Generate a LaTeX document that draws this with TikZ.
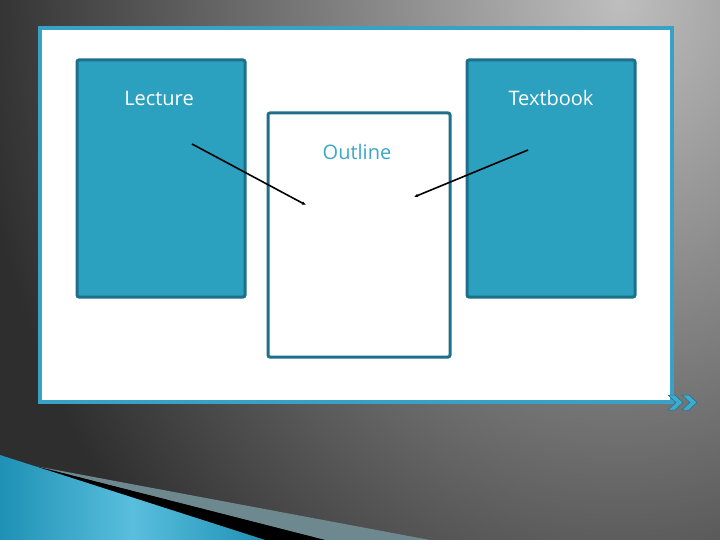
\documentclass[tikz,border=0pt]{standalone}
\usepackage{fontspec}
\setmainfont{Open Sans}
\usetikzlibrary{positioning, arrows.meta, shapes.geometric}
\definecolor{framecolor}{RGB}{55,162,196}
\definecolor{boxcolor}{RGB}{43,160,191}
\definecolor{boxedge}{RGB}{30,112,138}
\definecolor{outlinetext}{RGB}{58,168,198}
\definecolor{bgdark}{RGB}{46,46,46}
\definecolor{bglight}{RGB}{190,190,190}
\definecolor{bandgray}{RGB}{110,136,144}
\definecolor{wedgeblue}{RGB}{30,145,180}
\definecolor{wedgelight}{RGB}{90,190,222}
\definecolor{chevronfill}{RGB}{60,172,208}

\begin{document}
\begin{tikzpicture}[
    x=1pt, y=-1pt,
    box/.style={draw=boxedge, rectangle, rounded corners=2pt, line width=3pt, inner sep=0pt},
    txt/.style={font=\fontsize{20}{24}\selectfont, inner sep=0pt},
    arrow/.style={-{Latex[length=4pt, width=3.5pt]}, line width=1.6pt},
    chevron/.style={fill=chevronfill, draw=boxedge, line width=0.5pt}
]
    \useasboundingbox (0,0) rectangle (720,540);

    % Fond
    \fill[bgdark] (0,0) rectangle (720,540);
    \begin{scope}
        \clip (0,0) rectangle (720,540);
        \shade[inner color=bglight, outer color=bgdark] (620,0) ellipse [x radius=650pt, y radius=800pt];
    \end{scope}

    % Bandes en bas
    \fill[bandgray] (35,466) -- (430,540) -- (325,540) -- cycle;
    \fill[black] (35,466) -- (325,540) -- (265,540) -- cycle;
    \shade[left color=wedgeblue, right color=wedgeblue, middle color=wedgelight] (0,455) -- (265,540) -- (0,540) -- cycle;

    % Cadre
    \node[draw=framecolor, fill=white, line width=4pt, rectangle, minimum width=632pt, minimum height=374pt] (frame) at (356,215) {};

    % Chevrons
    \filldraw[chevron] (668,395) -- (675,395) -- (683,402.5) -- (675,410) -- (668,410) -- (676,402.5) -- cycle;
    \filldraw[chevron] (682,395) -- (689,395) -- (697,402.5) -- (689,410) -- (682,410) -- (690,402.5) -- cycle;

    % Boites
    \node[box, fill=boxcolor, minimum width=168pt, minimum height=237pt] (lecture) at (161,178.5) {};
    \node[box, fill=boxcolor, minimum width=168pt, minimum height=237pt] (textbook) at (551,178.5) {};
    \node[box, fill=white, minimum width=182pt, minimum height=244pt] (outline) at (359,235) {};

    \node[txt, text=white] (lecturetext) at (159,98) {Lecture};
    \node[txt, text=white] (textbooktext) at (551,98) {Textbook};
    \node[txt, text=outlinetext] (outlinetext) at (357,152) {Outline};

    % Fleches
    \coordinate (lecstart) at (192,144);
    \coordinate (outleft) at (306,205);
    \coordinate (texstart) at (528,150);
    \coordinate (outright) at (414,197);
    \draw[arrow] (lecstart) -- (outleft);
    \draw[arrow] (texstart) -- (outright);
\end{tikzpicture}
\end{document}
